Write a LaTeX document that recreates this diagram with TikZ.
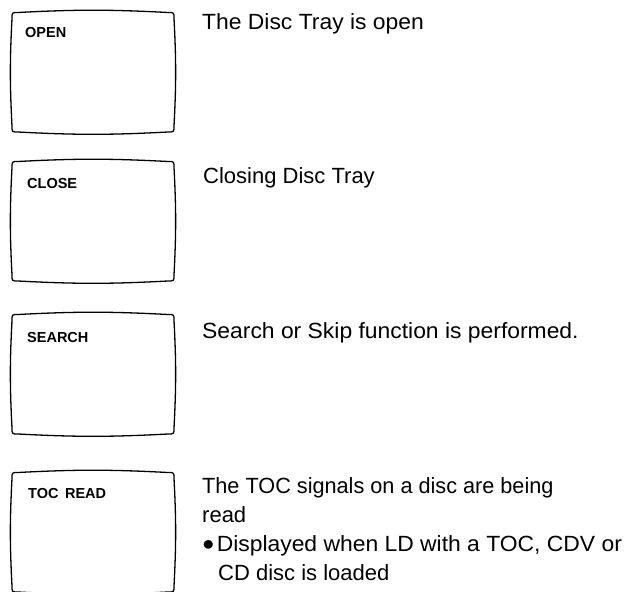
\documentclass[tikz,border=0pt]{standalone}
\usepackage{fontspec}
\setmainfont{Liberation Sans}
\begin{document}
\begin{tikzpicture}[x=1pt, y=-1pt,
        pantalla/.pic={
            \draw[line width=1.3pt, line join=round] (18,2.5) to[bend left=3] (168,2.5)
                .. controls (174,2.5) .. (174,8.5) to[bend left=3] (174,116)
                .. controls (174,122) .. (168,122) to[bend left=3] (18,122)
                .. controls (12,122) .. (12,116) to[bend left=3] (12,8.5)
                .. controls (12,2.5) .. (18,2.5) -- cycle;
        },
        etiqueta/.style={anchor=base west, inner sep=0pt, font=\fontsize{14.5}{17}\selectfont\bfseries},
        texto/.style={anchor=base west, inner sep=0pt, font=\fontsize{22}{29}\selectfont},
        ancho/.style={font=\fontsize{22}{29}\selectfont\addfontfeature{FakeStretch=#1}}]
        % Marco de la figura
        \useasboundingbox (0,0) rectangle (630,592);
        \clip (0,0) rectangle (630,592);

        % Pantallas
        \pic (scrOpen) at (0,10) {pantalla};
        \pic (scrClose) at (0,159) {pantalla};
        \pic (scrSearch) at (0,312) {pantalla};
        \pic (scrToc) at (0,470) {pantalla};

        % Textos de las pantallas
        \node[etiqueta] (lblOpen) at (25,37) {OPEN};
        \node[etiqueta] (lblClose) at (27,188) {CLOSE};
        \node[etiqueta] (lblSearch) at (27,342) {SEARCH};
        \node[etiqueta] (lblToc) at (28,498) {TOC\hspace{0.45em}READ};

        % Descripciones
        \node[texto, ancho=1.04] (txtOpen) at (202,29) {The Disc Tray is open};
        \node[texto] (txtClose) at (203,183) {Closing Disc Tray};
        \node[texto, ancho=1.04] (txtSearch) at (202,338) {Search or Skip function is performed.};
        \node[texto, ancho=0.985] (txtTocA) at (202,493) {The TOC signals on a disc are being};
        \node[texto] (txtTocB) at (202,522) {read};
        \node[texto, ancho=1.04] (txtTocC) at (202,551) {\raisebox{0.5pt}{\fontsize{20}{20}\selectfont●}\hspace{2pt}Displayed when LD with a TOC, CDV or};
        \node[texto] (txtTocD) at (218,580) {CD disc is loaded};
    \end{tikzpicture}
\end{document}
